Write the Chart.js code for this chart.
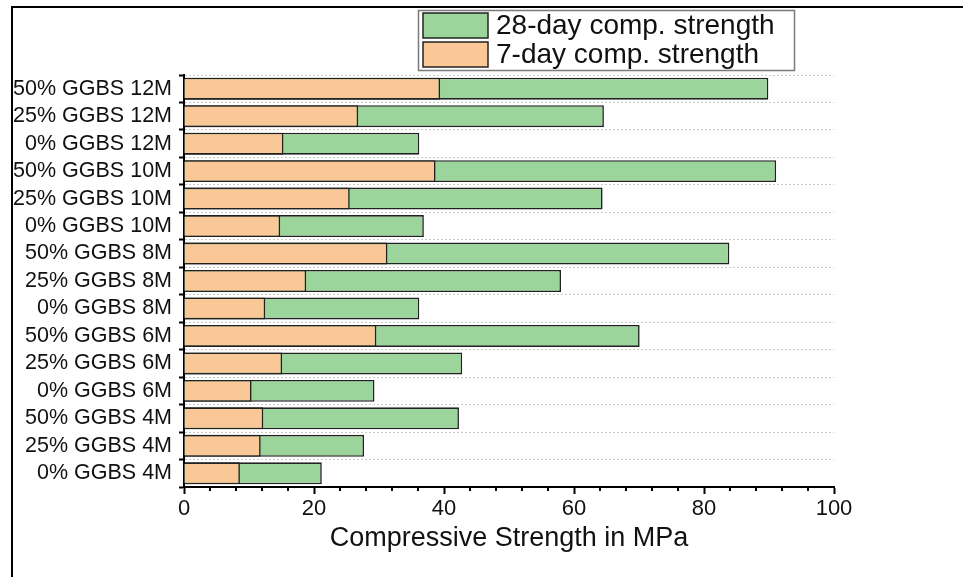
<!DOCTYPE html>
<html>
<head>
<meta charset="utf-8">
<script src="https://cdn.jsdelivr.net/npm/chart.js@4/dist/chart.umd.min.js"></script>
<style>
  html, body { margin: 0; padding: 0; background: #fff; }
  #wrap { width: 963px; height: 577px; position: relative; }
</style>
</head>
<body>
<div id="wrap"><canvas id="c" width="963" height="577"></canvas></div>
<script>
// Mix designs, listed top to bottom
const categories = [
  '50% GGBS 12M', '25% GGBS 12M', '0% GGBS 12M',
  '50% GGBS 10M', '25% GGBS 10M', '0% GGBS 10M',
  '50% GGBS 8M',  '25% GGBS 8M',  '0% GGBS 8M',
  '50% GGBS 6M',  '25% GGBS 6M',  '0% GGBS 6M',
  '50% GGBS 4M',  '25% GGBS 4M',  '0% GGBS 4M'
];
// Compressive strength in MPa
const strength7day  = [39.4, 26.8, 15.3, 38.7, 25.5, 14.8, 31.3, 18.8, 12.5, 29.6, 15.1, 10.4, 12.2, 11.8, 8.6];
const strength28day = [89.9, 64.6, 36.2, 91.1, 64.4, 36.9, 83.9, 58.0, 36.2, 70.1, 42.8, 29.3, 42.3, 27.7, 21.2];
const seriesLabels = ['7-day comp. strength', '28-day comp. strength'];
const xTicks = [0, 20, 40, 60, 80, 100];
const xMinorStep = 4;

const FONT = '"Liberation Sans", Arial, sans-serif';
const ORANGE = '#FAC797';
const GREEN = '#9BD59B';
const EDGE = '#222222';

// Minor tick marks on the value axis
const minorTicks = {
  id: 'minorTicks',
  afterDraw(chart) {
    const s = chart.scales.x, ctx = chart.ctx;
    ctx.save();
    ctx.strokeStyle = '#000';
    ctx.lineWidth = 2;
    for (let v = xTicks[0]; v <= xTicks[xTicks.length - 1]; v += xMinorStep) {
      if (xTicks.includes(v)) continue;
      const px = Math.round(s.getPixelForValue(v));
      ctx.beginPath();
      ctx.moveTo(px, s.top);
      ctx.lineTo(px, s.top + 4);
      ctx.stroke();
    }
    ctx.restore();
  }
};

// Boxed legend, 28-day entry first
const boxLegend = {
  id: 'boxLegend',
  afterDraw(chart) {
    const ctx = chart.ctx;
    const items = [
      { text: seriesLabels[1], color: GREEN },
      { text: seriesLabels[0], color: ORANGE }
    ];
    const x0 = 418, y0 = 10, w = 376, h = 60;
    ctx.save();
    ctx.fillStyle = '#fff';
    ctx.fillRect(x0, y0, w, h);
    ctx.strokeStyle = '#7a7a7a';
    ctx.lineWidth = 1.5;
    ctx.strokeRect(x0 + 0.5, y0 + 0.5, w, h);
    ctx.font = '28px ' + FONT;
    ctx.textBaseline = 'middle';
    ctx.textAlign = 'left';
    items.forEach((it, i) => {
      const sy = y0 + 3 + i * 29;
      ctx.fillStyle = it.color;
      ctx.fillRect(x0 + 5, sy, 65, 25);
      ctx.strokeStyle = EDGE;
      ctx.lineWidth = 1.5;
      ctx.strokeRect(x0 + 5, sy, 65, 25);
      ctx.fillStyle = '#111';
      ctx.fillText(it.text, x0 + 78, sy + 13);
    });
    ctx.restore();
  }
};

// Outer frame (left and top edges)
const frame = {
  id: 'frame',
  afterDraw(chart) {
    const ctx = chart.ctx;
    ctx.save();
    ctx.fillStyle = '#fff';
    ctx.fillRect(0, 0, 11, chart.height);
    ctx.fillRect(0, 0, chart.width, 6);
    ctx.strokeStyle = '#000';
    ctx.lineWidth = 2;
    ctx.beginPath();
    ctx.moveTo(12, chart.height);
    ctx.lineTo(12, 7);
    ctx.lineTo(chart.width, 7);
    ctx.stroke();
    ctx.restore();
  }
};

new Chart(document.getElementById('c'), {
  type: 'bar',
  data: {
    labels: categories,
    datasets: [
      {
        label: seriesLabels[0],
        data: strength7day,
        backgroundColor: ORANGE,
        borderColor: EDGE,
        borderWidth: 1.6,
        grouped: false,
        barPercentage: 0.8,
        categoryPercentage: 1.0
      },
      {
        label: seriesLabels[1],
        data: strength28day,
        backgroundColor: GREEN,
        borderColor: EDGE,
        borderWidth: 1.6,
        grouped: false,
        barPercentage: 0.8,
        categoryPercentage: 1.0
      }
    ]
  },
  options: {
    indexAxis: 'y',
    responsive: false,
    animation: false,
    layout: { padding: { top: 75, right: 129, left: 0, bottom: 0 } },
    plugins: {
      legend: { display: false },
      tooltip: { enabled: false }
    },
    scales: {
      x: {
        type: 'linear',
        min: 0,
        max: 100,
        afterBuildTicks(scale) { scale.ticks = xTicks.map(v => ({ value: v })); },
        afterFit(scale) { scale.height = 90; },
        border: { display: true, color: '#000', width: 2 },
        grid: {
          drawOnChartArea: false,
          drawTicks: true,
          tickLength: 7,
          tickWidth: 2,
          tickColor: '#000'
        },
        ticks: {
          color: '#111',
          padding: 2,
          maxRotation: 0,
          font: { family: FONT, size: 22 }
        },
        title: {
          display: true,
          text: 'Compressive Strength in MPa',
          color: '#111',
          font: { family: FONT, size: 27 },
          padding: { top: 0, bottom: 22 }
        }
      },
      y: {
        type: 'category',
        afterFit(scale) { scale.width = 184; },
        border: { display: true, color: '#000', width: 2, dash: [2, 2] },
        grid: {
          offset: true,
          color: '#c9c9c9',
          lineWidth: 1,
          drawTicks: true,
          tickLength: 5,
          tickWidth: 2,
          tickColor: '#000',
          tickBorderDash: []
        },
        ticks: {
          color: '#111',
          padding: 7,
          autoSkip: false,
          font: { family: FONT, size: 21.5 }
        }
      }
    }
  },
  plugins: [minorTicks, boxLegend, frame]
});
</script>
</body>
</html>
